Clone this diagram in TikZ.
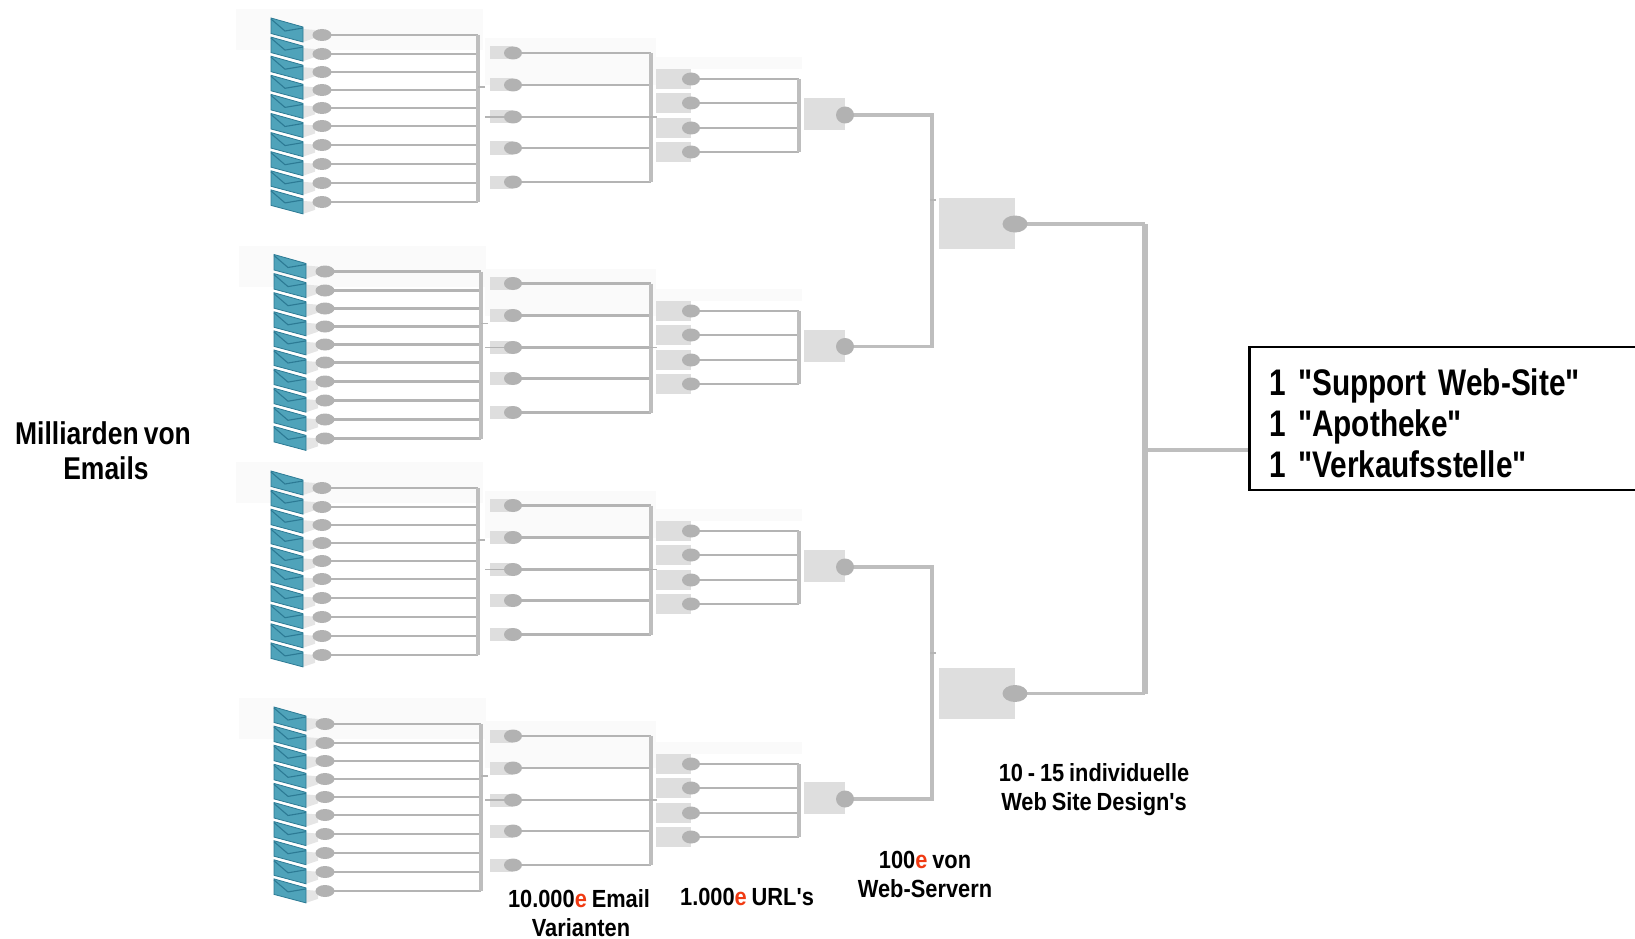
\documentclass[tikz,border=0pt]{standalone}
\usepackage{fontspec}
\usetikzlibrary{shapes.geometric}
\newfontfamily\lab[FakeStretch=0.88,WordSpace=0.8]{Liberation Sans}
\newfontfamily\midlab[FakeStretch=0.84,WordSpace=0.7]{Liberation Sans}
\newfontfamily\biglab[FakeStretch=0.805,WordSpace=0.7]{Liberation Sans}
\definecolor{wire}{HTML}{B4B4B4}
\definecolor{busc}{HTML}{BEBEBE}
\definecolor{boxc}{HTML}{DEDEDE}
\definecolor{dotc}{HTML}{B2B2B2}
\definecolor{faint}{HTML}{FAFAFA}
\definecolor{teal1}{HTML}{4FA3BA}
\definecolor{teal2}{HTML}{2C7A94}
\definecolor{redE}{HTML}{F03A12}
\newcommand{\re}{\textcolor{redE}{e}}
\pgfdeclarelayer{under}
\pgfdeclarelayer{wires}
\pgfsetlayers{under,wires,main}
\tikzset{
  wireline/.style={draw=wire,line width=2.6pt},
  busline/.style={draw=busc,line width=4pt},
  widewire/.style={draw=busc,line width=3.6pt},
  widebus/.style={draw=busc,line width=5.5pt},
  dotA/.style={ellipse,fill=dotc,inner sep=0pt,minimum width=19pt,minimum height=12pt},
  dotB/.style={ellipse,fill=dotc,inner sep=0pt,minimum width=18pt,minimum height=13pt},
  dotC/.style={ellipse,fill=dotc,inner sep=0pt,minimum width=18pt,minimum height=17pt},
  dotD/.style={ellipse,fill=dotc,inner sep=0pt,minimum width=25pt,minimum height=17pt},
  smallbox/.style={fill=boxc,inner sep=0pt},
  faintbox/.style={fill=faint,draw=none},
  txt/.style={align=center,inner sep=0pt,font=\lab\bfseries\fontsize{24.8}{29}\selectfont}
}
% #1 id, #2 envelope dx, #3 envelope dy, #4 level-2 dy, #5 level-3 dy, #6 level-4 dy
\newcommand{\emailgroup}[6]{
  \begin{pgfonlayer}{under}
    \fill[faintbox] (236+#2,9+#3) rectangle (483+#2,50+#3);
    \fill[faintbox] (485,38+#4) rectangle (656,85+#4);
    \fill[faintbox] (656,57+#5) rectangle (802,69+#5);
  \end{pgfonlayer}
  \coordinate (bA#1t) at (478+#2,35+#3);
  \coordinate (bA#1b) at (478+#2,202+#3);
  \coordinate (bB#1t) at (651,53+#4);
  \coordinate (bB#1b) at (651,182+#4);
  \coordinate (bC#1t) at (799,79+#5);
  \coordinate (bC#1b) at (799,152+#5);
  % envelopes and their dots
  \foreach \yy [count=\i] in {35,54,72,90,108,126,145,164,183,202} {
    \begin{scope}[shift={(271+#2,{18+19.1*(\i-1)+#3})}]
      \fill[black!10] (32,24) -- (32,11) -- (44,12) -- (44,20) -- cycle;
      \filldraw[fill=teal1,draw=teal2,line width=0.8pt] (0,0) -- (32,9) -- (32,24) -- (0,15.5) -- cycle;
      \draw[teal2,line width=1.1pt] (0,1) -- (14,13) -- (32,10);
    \end{scope}
    \node[dotA] (a#1-\i) at (322+#2,{\yy+#3}) {};
    \begin{pgfonlayer}{wires}
      \draw[wireline] (a#1-\i.center) -- (a#1-\i.center -| bA#1t);
    \end{pgfonlayer}
  }
  \begin{pgfonlayer}{wires}
    \draw[busline] (bA#1t) -- (bA#1b);
  \end{pgfonlayer}
  % level 2
  \foreach \yy [count=\i] in {53,85,117,148,182} {
    \begin{pgfonlayer}{under}
      \fill[smallbox] (490,{\yy-6.5+#4}) rectangle (513,{\yy+6.5+#4});
    \end{pgfonlayer}
    \node[dotB] (b#1-\i) at (513,{\yy+#4}) {};
    \begin{pgfonlayer}{wires}
      \draw[wireline] (b#1-\i.center) -- (b#1-\i.center -| bB#1t);
    \end{pgfonlayer}
  }
  \coordinate (sA#1) at (485,117+#4);
  \coordinate (sB#1) at (657,117+#4);
  \coordinate (sC#1) at (478+#2,87+#3);
  \coordinate (sD#1) at (485+#2,87+#3);
  \begin{pgfonlayer}{wires}
    \draw[busline] (bB#1t) -- (bB#1b);
    \draw[wire,line width=1.8pt] (sA#1) -- (b#1-3.center);
    \draw[wire,line width=1.8pt] (b#1-3.center) -- (sB#1);
    \draw[wire,line width=1.8pt] (sC#1) -- (sD#1);
  \end{pgfonlayer}
  % level 3
  \foreach \yy [count=\i] in {79,103,128,152} {
    \begin{pgfonlayer}{under}
      \fill[smallbox] (656,{\yy-10+#5}) rectangle (691,{\yy+10+#5});
    \end{pgfonlayer}
    \node[dotB] (c#1-\i) at (691,{\yy+#5}) {};
    \begin{pgfonlayer}{wires}
      \draw[wireline] (c#1-\i.center) -- (c#1-\i.center -| bC#1t);
    \end{pgfonlayer}
  }
  \begin{pgfonlayer}{wires}
    \draw[busline] (bC#1t) -- (bC#1b);
  \end{pgfonlayer}
  % level 4
  \begin{pgfonlayer}{under}
    \fill[smallbox] (804,98+#6) rectangle (845,130+#6);
  \end{pgfonlayer}
  \node[dotC] (d#1) at (845,115+#6) {};
}
\begin{document}
\begin{tikzpicture}[x=1pt,y=-1pt]
\useasboundingbox (0,0) rectangle (1635,939);
\emailgroup{1}{0}{0}{0}{0}{0}
\emailgroup{2}{3}{236.5}{230.5}{232}{231.5}
\emailgroup{3}{0}{453}{452.5}{452}{452}
\emailgroup{4}{3}{689}{683}{685}{684}

% level 5
\coordinate (e1bus) at (932,224);
\coordinate (e2bus) at (932,693);
\coordinate (tk1a) at (930,200);
\coordinate (tk1b) at (936,200);
\coordinate (tk2a) at (930,653);
\coordinate (tk2b) at (936,653);
\begin{pgfonlayer}{under}
  \fill[smallbox] (939,198) rectangle (1015,249);
  \fill[smallbox] (939,668) rectangle (1015,719);
\end{pgfonlayer}
\node[dotD] (e1) at (1015,224) {};
\node[dotD] (e2) at (1015,693.5) {};
\coordinate (fbT) at (1145,224);
\coordinate (fbB) at (1145,693.5);
\coordinate (fbM) at (1145,450);

% result
\node[draw=black,line width=2.5pt,anchor=west,minimum width=402pt,minimum height=143pt,
      text width=362pt,inner sep=0pt,align=left,
      font=\biglab\bfseries\fontsize{37}{41.2}\selectfont] (res) at (1248,418.5)
  {\rule{0pt}{36pt}1 "Support Web-Site"\\1 "Apotheke"\\1 "Verkaufsstelle"};

\begin{pgfonlayer}{wires}
  \draw[widewire] (d1.center) -| (e1bus |- d2.center) -- (d2.center);
  \draw[widewire] (d3.center) -| (e2bus |- d4.center) -- (d4.center);
  \draw[wire,line width=1.8pt] (tk1a) -- (tk1b);
  \draw[wire,line width=1.8pt] (tk2a) -- (tk2b);
  \draw[widewire] (e1.center) -- (fbT);
  \draw[widewire] (e2.center) -- (fbB);
  \draw[widebus] (fbT) -- (fbB);
  \draw[draw=busc,line width=4pt] (fbM) -- (fbM -| res.west);
\end{pgfonlayer}

% labels
\node[txt,font=\midlab\bfseries\fontsize{31.5}{35}\selectfont] (l0) at (103,451) {Milliarden von\\\hspace*{6pt}Emails};
\node[txt] (l1) at (579,913) {10.000\re{} Email\\\hspace*{4pt}Varianten};
\node[txt] (l2) at (747,896.5) {1.000\re{} URL's};
\node[txt] (l3) at (925,874) {100\re{} von\\Web-Servern};
\node[txt] (l4) at (1094,790) {10 - 15 individuelle\\Web Site Design's};
\end{tikzpicture}
\end{document}
